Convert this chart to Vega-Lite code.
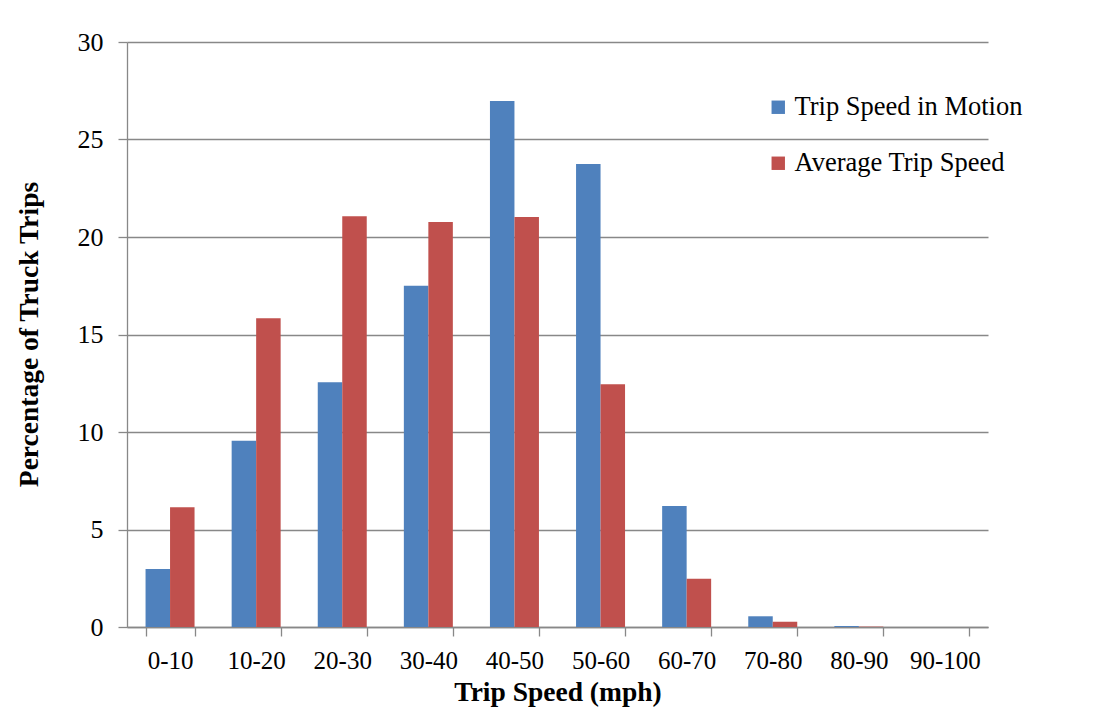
{
  "$schema": "https://vega.github.io/schema/vega-lite/v6.json",
  "width": 861,
  "height": 585,
  "autosize": {"type": "none"},
  "padding": {"left": 127, "top": 42, "right": 109, "bottom": 84},
  "background": "white",
  "data": {
    "values": [
      {"range": "0-10", "series": "Trip Speed in Motion", "pct": 2.97},
      {"range": "0-10", "series": "Average Trip Speed", "pct": 6.14},
      {"range": "10-20", "series": "Trip Speed in Motion", "pct": 9.55},
      {"range": "10-20", "series": "Average Trip Speed", "pct": 15.83},
      {"range": "20-30", "series": "Trip Speed in Motion", "pct": 12.55},
      {"range": "20-30", "series": "Average Trip Speed", "pct": 21.06},
      {"range": "30-40", "series": "Trip Speed in Motion", "pct": 17.5},
      {"range": "30-40", "series": "Average Trip Speed", "pct": 20.77},
      {"range": "40-50", "series": "Trip Speed in Motion", "pct": 26.97},
      {"range": "40-50", "series": "Average Trip Speed", "pct": 21.03},
      {"range": "50-60", "series": "Trip Speed in Motion", "pct": 23.74},
      {"range": "50-60", "series": "Average Trip Speed", "pct": 12.45},
      {"range": "60-70", "series": "Trip Speed in Motion", "pct": 6.21},
      {"range": "60-70", "series": "Average Trip Speed", "pct": 2.48},
      {"range": "70-80", "series": "Trip Speed in Motion", "pct": 0.55},
      {"range": "70-80", "series": "Average Trip Speed", "pct": 0.27},
      {"range": "80-90", "series": "Trip Speed in Motion", "pct": 0.05},
      {"range": "80-90", "series": "Average Trip Speed", "pct": 0.02},
      {"range": "90-100", "series": "Trip Speed in Motion", "pct": 0},
      {"range": "90-100", "series": "Average Trip Speed", "pct": 0}
    ]
  },
  "mark": {"type": "bar"},
  "encoding": {
    "x": {
      "field": "range",
      "type": "nominal",
      "sort": ["0-10", "10-20", "20-30", "30-40", "40-50", "50-60", "60-70", "70-80", "80-90", "90-100"],
      "scale": {"paddingInner": 0.431, "paddingOuter": 0.2155},
      "axis": {
        "labelAngle": 0,
        "tickBand": "extent",
        "tickSize": 9,
        "tickColor": "#888888",
        "tickWidth": 1.3,
        "domainColor": "#888888",
        "domainWidth": 1.3,
        "grid": false,
        "labelFont": "Liberation Serif",
        "labelFontSize": 25,
        "labelColor": "black",
        "labelPadding": 12,
        "title": "Trip Speed (mph)",
        "titleFont": "Liberation Serif",
        "titleFontSize": 27.5,
        "titleFontWeight": "bold",
        "titleColor": "black",
        "titleY": 65,
        "titleBaseline": "middle"
      }
    },
    "xOffset": {
      "field": "series",
      "type": "nominal",
      "sort": ["Trip Speed in Motion", "Average Trip Speed"],
      "scale": {"paddingInner": 0, "paddingOuter": 0}
    },
    "y": {
      "field": "pct",
      "type": "quantitative",
      "scale": {"domain": [0, 30], "nice": false},
      "axis": {
        "values": [0, 5, 10, 15, 20, 25, 30],
        "grid": true,
        "gridColor": "#888888",
        "gridWidth": 1.3,
        "domainColor": "#888888",
        "domainWidth": 1.3,
        "tickColor": "#888888",
        "tickWidth": 1.3,
        "tickSize": 9,
        "labelFont": "Liberation Serif",
        "labelFontSize": 26,
        "labelColor": "black",
        "labelPadding": 15,
        "title": "Percentage of Truck Trips",
        "titleFont": "Liberation Serif",
        "titleFontSize": 27.5,
        "titleFontWeight": "bold",
        "titleColor": "black",
        "titleAngle": -90,
        "titleX": -98,
        "titleY": 292,
        "titleAlign": "center",
        "titleBaseline": "middle"
      }
    },
    "color": {
      "field": "series",
      "type": "nominal",
      "sort": ["Trip Speed in Motion", "Average Trip Speed"],
      "scale": {"domain": ["Trip Speed in Motion", "Average Trip Speed"], "range": ["#4F81BD", "#C0504D"]},
      "legend": {
        "orient": "none",
        "legendX": 638,
        "legendY": 52,
        "title": null,
        "padding": 0,
        "symbolType": "square",
        "symbolSize": 180,
        "symbolStrokeWidth": 0,
        "symbolOpacity": 1,
        "labelFont": "Liberation Serif",
        "labelFontSize": 26.5,
        "labelColor": "black",
        "labelLimit": 0,
        "labelOffset": 3,
        "rowPadding": 29
      }
    }
  },
  "config": {"view": {"stroke": null}, "font": "Liberation Serif"}
}
